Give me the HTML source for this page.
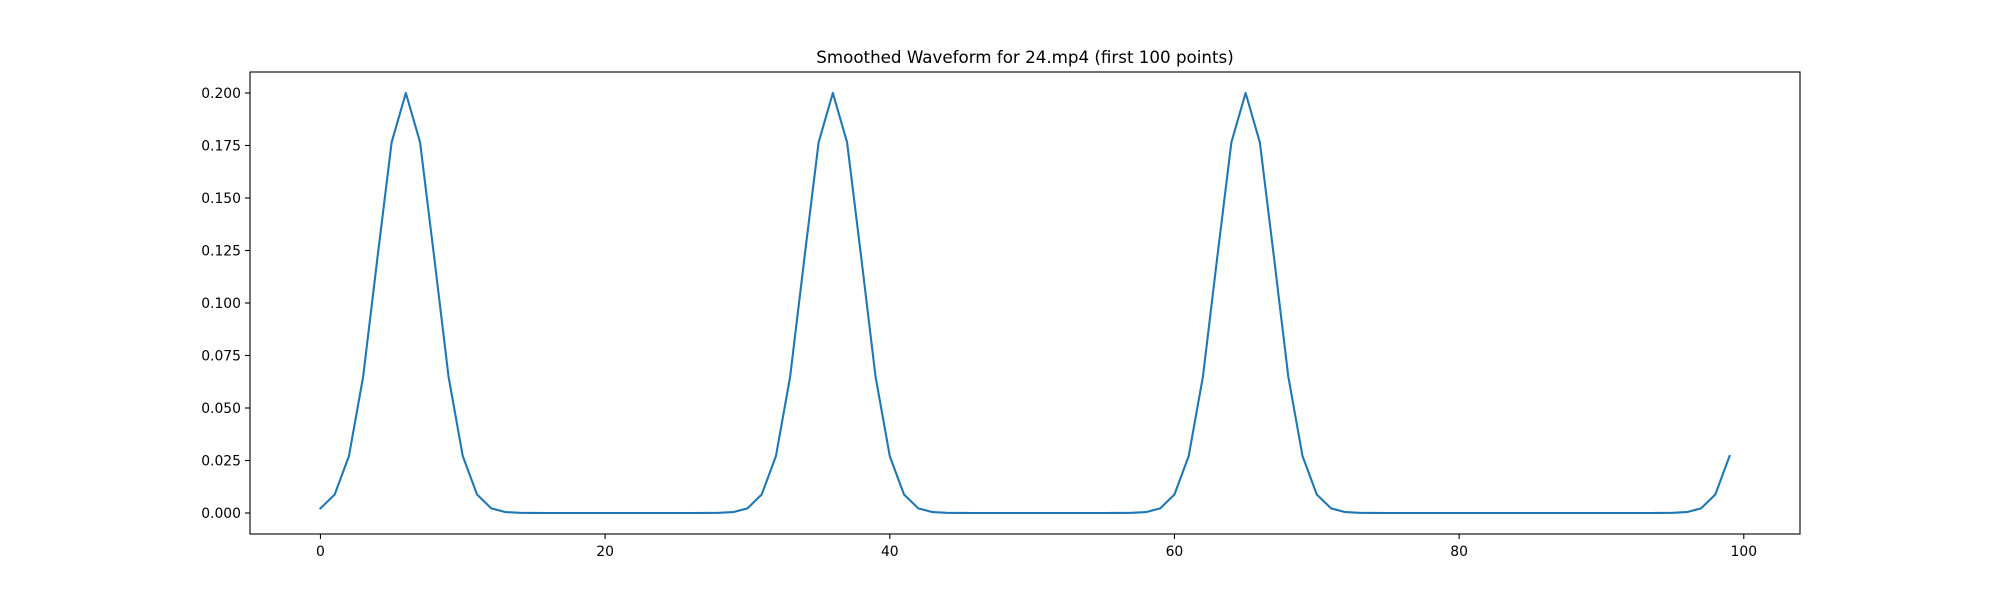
<!DOCTYPE html>
<html><head><meta charset="utf-8"><style>
html,body{margin:0;padding:0;background:#fff;}
svg{display:block;font-family:"DejaVu Sans","Liberation Sans",sans-serif;}
</style></head><body>
<svg id="s" width="2000" height="600" viewBox="0 0 2000 600" xmlns="http://www.w3.org/2000/svg">
<rect width="2000" height="600" fill="#fff"/>
<text x="1025" y="63" font-size="16.7" text-anchor="middle" fill="#000">Smoothed Waveform for 24.mp4 (first 100 points)</text>
<g id="g"></g>
<rect x="250" y="72" width="1550" height="462" fill="none" stroke="#000" stroke-width="1.1"/>
</svg>
<script>
var X=function(x){return 250+(x+4.95)/108.9*1550;};
var Y=function(y){return 72+(0.21-y)/0.22*462;};
var g=document.getElementById('g'),h='';
for(var i=0;i<=100;i+=20){var px=X(i);h+='<line x1="'+px+'" y1="534" x2="'+px+'" y2="539" stroke="#000" stroke-width="1.1"/><text x="'+px+'" y="556" font-size="13.9" text-anchor="middle">'+i+'</text>';}
for(var k=0;k<=8;k++){var v=k*0.025,py=Y(v);h+='<line x1="245" y1="'+py+'" x2="250" y2="'+py+'" stroke="#000" stroke-width="1.1"/><text x="241" y="'+(py+5)+'" font-size="13.9" text-anchor="end">'+v.toFixed(3)+'</text>';}
var pk=[6,36,65,103],pts=[];
for(var x=0;x<100;x++){var s=0;for(var j=0;j<pk.length;j++){var d=x-pk[j];s+=0.2*Math.exp(-d*d/8);}pts.push(X(x).toFixed(2)+','+Y(s).toFixed(2));}
h+='<polyline points="'+pts.join(' ')+'" fill="none" stroke="#1f77b4" stroke-width="2.1" stroke-linejoin="round" stroke-linecap="square"/>';
g.innerHTML=h;
</script>
</body></html>
